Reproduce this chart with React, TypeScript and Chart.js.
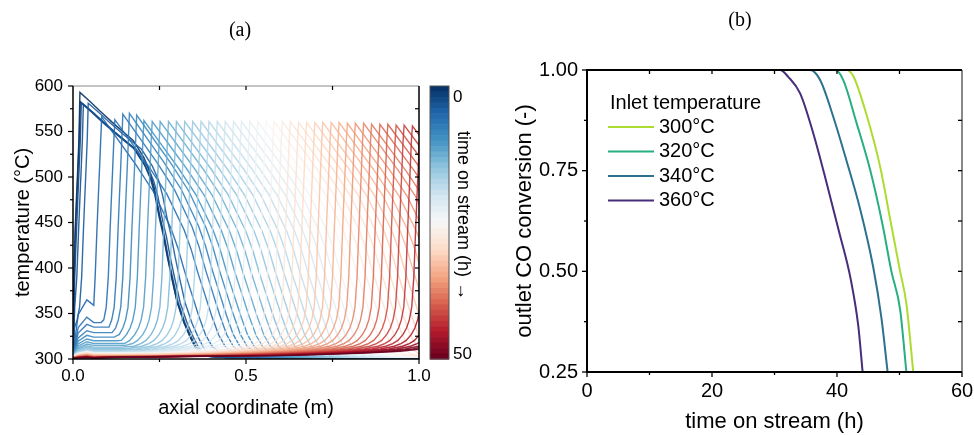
import React, { useEffect, useRef } from "react";
import { Chart, registerables } from "chart.js";

Chart.register(...registerables);

const FONT = "'Liberation Sans', Arial, Helvetica, sans-serif";
const SERIF = "'Liberation Serif', 'Times New Roman', serif";

// ---------------- Panel (a): axial temperature profiles ----------------
const timeOnStream = [
  0, 1, 2, 3, 4, 5, 6, 7, 8, 9, 10, 11, 12, 13, 14, 15, 16, 17, 18, 19, 20, 21, 22, 23, 24, 25,
  26, 27, 28, 29, 30, 31, 32, 33, 34, 35, 36, 37, 38, 39, 40, 41, 42, 43, 44, 45, 46, 47, 48, 49, 50,
];
// axial position of the hot spot (m) for each hour
const frontPosition = [
  0.02, 0.021, 0.024, 0.03, 0.044, 0.083, 0.121, 0.144, 0.163, 0.184, 0.205, 0.229, 0.252, 0.276,
  0.299, 0.323, 0.346, 0.37, 0.393, 0.417, 0.44, 0.464, 0.487, 0.511, 0.534, 0.558, 0.581, 0.605,
  0.628, 0.652, 0.675, 0.699, 0.722, 0.746, 0.769, 0.793, 0.816, 0.84, 0.863, 0.887, 0.91, 0.934,
  0.957, 0.981, 1.004, 1.028, 1.052, 1.075, 1.099, 1.122, 1.146,
];
// hot-spot temperature (°C)
const peakTemperature = [
  593, 583, 581, 580, 581, 566, 563, 569, 570, 568, 562, 561, 561, 561, 561, 561, 561, 561, 561,
  561, 561, 561, 561, 561, 561, 561, 561, 561, 561, 560, 560, 560, 560, 560, 560, 559, 559, 559,
  558, 558, 558, 557, 557, 556, 556, 555, 555, 555, 554, 554, 554,
];
// small inlet bump (°C at x ≈ 0.04 m); null = no bump
const inletBumpTemperature: (number | null)[] = [
  null, null, null, null, null, 365, 346, 338, 331, 326, 322, 319, 316.5, 314.5, 313, 312, 311, 310,
  309.5, 309, 308.5, 308.2, 308, 307.8, 307.6, 307.4, 307.1, 306.8, 306.5, 306.2, 305.9, 305.6,
  305.3, 305, 304.7, 304.4, 304.1, 303.8, 303.5, 303.3, 303.1, 302.9, 302.7, 302.5, 302.3, 302.2,
  302.1, 302, 301.9, 301.8, 301.7,
];
// level of the deactivated zone upstream of the front (°C)
const plateauTemperature = [
  300, 300, 300, 300, 300, 359, 340, 335, 329, 324, 320, 317, 315, 313, 311.5, 310.5, 309.5, 308.5,
  308, 307.6, 307.3, 307, 306.8, 306.6, 306.4, 306.2, 305.9, 305.6, 305.3, 305, 304.7, 304.4, 304.1,
  303.8, 303.5, 303.2, 302.9, 302.7, 302.5, 302.3, 302.1, 301.9, 301.8, 301.7, 301.6, 301.5, 301.4,
  301.3, 301.3, 301.2, 301.2,
];
// shape of the rising flank, read relative to the hot spot
const riseOffset = [
  -1.0, -0.5, -0.3, -0.2, -0.14, -0.1, -0.08, -0.065, -0.05, -0.04, -0.032, -0.025, -0.019, -0.014,
  -0.01, -0.006, -0.003,
];
const riseTemperature = [
  302, 304, 306.5, 308.5, 311, 314, 317, 320.5, 327, 334, 343, 357, 390, 440, 477, 512, 540,
];
// falling flank of the first hours (fraction of peak rise above 300 °C)
const earlyDescentOffset = [
  0, 0.03, 0.058, 0.1, 0.154, 0.185, 0.203, 0.215, 0.228, 0.24, 0.251, 0.265, 0.28, 0.3, 0.318,
  0.333, 0.347, 0.37, 0.42, 1.5,
];
const earlyDescentFraction = [
  1, 0.965, 0.93, 0.88, 0.82, 0.755, 0.7, 0.64, 0.55, 0.48, 0.4, 0.31, 0.22, 0.14, 0.085, 0.045,
  0.022, 0.01, 0.006, 0.004,
];
// falling flank of the travelling front
const lateDescentOffset = [0, 0.05, 0.1, 0.15, 0.2, 0.22, 0.24, 0.26, 0.28, 0.3, 0.32, 0.35, 0.4, 1.5];
const lateDescentFraction = [1, 0.9, 0.8, 0.69, 0.54, 0.46, 0.36, 0.27, 0.18, 0.1, 0.05, 0.02, 0.008, 0.004];

const axialMajor = [0, 0.5, 1.0];
const axialMinor = [0.25, 0.75];
const tempMajor = [300, 350, 400, 450, 500, 550, 600];
const tempMinor = [325, 375, 425, 475, 525, 575];
const colorbarLabels = ["0", "50"];
const timeMax = 50;

// ---------------- Panel (b): outlet CO conversion ----------------
const inletLabels = ["300°C", "320°C", "340°C", "360°C"];
const inletColors = ["#addc30", "#28ae80", "#2c728e", "#472d7b"];
const time300 = [0, 41.5, 42.6, 44.7, 46.9, 48.5, 50.1, 51.1, 52.2];
const conv300 = [1, 1, 0.985, 0.89, 0.76, 0.63, 0.5, 0.42, 0.25];
const time320 = [0, 39.7, 41.0, 43.1, 45.3, 47.3, 48.7, 50.1, 51.1];
const conv320 = [1, 1, 0.975, 0.87, 0.752, 0.615, 0.5, 0.405, 0.25];
const time340 = [0, 35.7, 37.3, 39.4, 41.5, 43.7, 45.8, 47.1, 48.1];
const conv340 = [1, 1, 0.975, 0.884, 0.776, 0.655, 0.51, 0.385, 0.25];
const time360 = [0, 30.9, 32.2, 34.1, 36.2, 38.35, 40.3, 42.2, 43.4, 44.1];
const conv360 = [1, 1, 0.983, 0.942, 0.843, 0.719, 0.6, 0.48, 0.365, 0.25];
const timeMajor = [0, 20, 40, 60];
const timeMinor = [10, 30, 50];
const convMajor = [0.25, 0.5, 0.75, 1.0];
const convMinor = [0.375, 0.625, 0.875];

// ---------------- helpers ----------------
const RDBU_R = ["#053061", "#2166ac", "#4393c3", "#92c5de", "#d1e5f0", "#f7f7f7", "#fddbc7", "#f4a582", "#d6604d", "#b2182b", "#67001f"];
function hexRgb(h: string) {
  return [parseInt(h.slice(1, 3), 16), parseInt(h.slice(3, 5), 16), parseInt(h.slice(5, 7), 16)];
}
function cmap(f: number, alpha = 1) {
  const n = RDBU_R.length - 1;
  const p = Math.max(0, Math.min(1, f)) * n;
  const i = Math.min(Math.floor(p), n - 1);
  const r = p - i;
  const a = hexRgb(RDBU_R[i]);
  const b = hexRgb(RDBU_R[i + 1]);
  const c = a.map((v, k) => Math.round(v + (b[k] - v) * r));
  return `rgba(${c[0]},${c[1]},${c[2]},${alpha})`;
}

function buildProfile(i: number) {
  const xf = frontPosition[i];
  const tp = peakTemperature[i];
  const bump = inletBumpTemperature[i];
  const plateau = plateauTemperature[i];
  const start = bump !== null ? Math.min(300 + (bump - 300) * 0.35, 305) : 300;
  const pts: { x: number; y: number }[] = [{ x: 0, y: start }];
  let lastX = 0;
  if (bump !== null) {
    pts.push({ x: 0.015, y: 300 + (bump - 300) * 0.75 });
    pts.push({ x: 0.04, y: bump });
    pts.push({ x: 0.06, y: plateau });
    lastX = 0.06;
  }
  const floor = bump !== null ? plateau : 300;
  for (let k = 0; k < riseOffset.length; k++) {
    const x = xf + riseOffset[k];
    if (x <= lastX + 0.002) continue;
    pts.push({ x, y: Math.max(riseTemperature[k], floor) });
    lastX = x;
  }
  pts.push({ x: xf, y: tp });
  const early = bump === null;
  const off = early ? earlyDescentOffset : lateDescentOffset;
  const frac = early ? earlyDescentFraction : lateDescentFraction;
  for (let k = 1; k < off.length; k++) {
    pts.push({ x: xf + off[k], y: 300 + (tp - 300) * frac[k] });
  }
  return pts;
}

function tick(ctx: CanvasRenderingContext2D, x1: number, y1: number, x2: number, y2: number) {
  ctx.beginPath();
  ctx.moveTo(x1, y1);
  ctx.lineTo(x2, y2);
  ctx.stroke();
}

const frameA = {
  id: "frameA",
  afterDatasetsDraw(chart: any) {
    const { ctx, chartArea } = chart;
    const { left, right, top, bottom } = chartArea;
    const xs = chart.scales.x;
    const ys = chart.scales.y;
    ctx.save();
    ctx.lineWidth = 1;
    ctx.strokeStyle = "#888";
    tick(ctx, left, top, right, top);
    ctx.strokeStyle = "#000";
    ctx.lineWidth = 1.5;
    ctx.beginPath();
    ctx.moveTo(left, top);
    ctx.lineTo(left, bottom);
    ctx.lineTo(right, bottom);
    ctx.lineTo(right, top);
    ctx.stroke();
    ctx.lineWidth = 1.2;
    tempMajor.forEach((v) => tick(ctx, left - 5, ys.getPixelForValue(v), left, ys.getPixelForValue(v)));
    tempMinor.forEach((v) => tick(ctx, left - 3, ys.getPixelForValue(v), left, ys.getPixelForValue(v)));
    axialMajor.forEach((v) => tick(ctx, xs.getPixelForValue(v), bottom, xs.getPixelForValue(v), bottom + 5));
    axialMinor.forEach((v) => tick(ctx, xs.getPixelForValue(v), bottom, xs.getPixelForValue(v), bottom + 3));
    [...tempMajor, ...tempMinor].forEach((v) => {
      if (v === 300 || v === 600) return;
      tick(ctx, right - 4, ys.getPixelForValue(v), right, ys.getPixelForValue(v));
    });
    [...axialMinor, 0.5].forEach((v) => tick(ctx, xs.getPixelForValue(v), top, xs.getPixelForValue(v), top + 4));

    // colorbar
    const cbL = right + 11;
    const cbW = 19;
    const n = 50;
    const h = (bottom - top) / n;
    for (let k = 0; k < n; k++) {
      ctx.fillStyle = cmap((k + 0.5) / n);
      ctx.fillRect(cbL, top + k * h, cbW, h + 0.6);
    }
    ctx.strokeStyle = "#555";
    ctx.lineWidth = 1;
    ctx.strokeRect(cbL, top, cbW, bottom - top);
    ctx.fillStyle = "#000";
    ctx.font = `17px ${FONT}`;
    ctx.textAlign = "left";
    ctx.textBaseline = "middle";
    ctx.fillText(colorbarLabels[0], cbL + cbW + 4, top + 11);
    ctx.fillText(colorbarLabels[1], cbL + cbW + 4, bottom - 5);
    ctx.translate(cbL + cbW + 14, (top + bottom) / 2 - 7);
    ctx.rotate(Math.PI / 2);
    ctx.textAlign = "center";
    ctx.font = `18px ${FONT}`;
    ctx.fillText("time on stream (h) \u2192", 0, 0);
    ctx.restore();
  },
};

const frameB = {
  id: "frameB",
  afterDatasetsDraw(chart: any) {
    const { ctx, chartArea } = chart;
    const { left, right, top, bottom } = chartArea;
    const xs = chart.scales.x;
    const ys = chart.scales.y;
    ctx.save();
    ctx.lineWidth = 2;
    ctx.strokeStyle = "#888";
    tick(ctx, right, top, right, bottom);
    ctx.strokeStyle = "#000";
    ctx.beginPath();
    ctx.moveTo(right, top);
    ctx.lineTo(left, top);
    ctx.lineTo(left, bottom);
    ctx.lineTo(right, bottom);
    ctx.stroke();
    ctx.lineWidth = 1.3;
    convMajor.forEach((v) => tick(ctx, left - 5, ys.getPixelForValue(v), left, ys.getPixelForValue(v)));
    convMinor.forEach((v) => tick(ctx, left - 3, ys.getPixelForValue(v), left, ys.getPixelForValue(v)));
    timeMajor.forEach((v) => tick(ctx, xs.getPixelForValue(v), bottom, xs.getPixelForValue(v), bottom + 5));
    timeMinor.forEach((v) => tick(ctx, xs.getPixelForValue(v), bottom, xs.getPixelForValue(v), bottom + 3));
    [10, 20, 30, 40, 50].forEach((v) => tick(ctx, xs.getPixelForValue(v), top, xs.getPixelForValue(v), top + 4));
    [0.375, 0.5, 0.625, 0.75, 0.875].forEach((v) => tick(ctx, right - 4, ys.getPixelForValue(v), right, ys.getPixelForValue(v)));

    // legend
    ctx.fillStyle = "#000";
    ctx.textBaseline = "middle";
    ctx.textAlign = "left";
    ctx.font = `20px ${FONT}`;
    ctx.fillText("Inlet temperature", left + 23, top + 33);
    inletLabels.forEach((lab, i) => {
      const yy = top + 57 + i * 24.5;
      ctx.strokeStyle = inletColors[i];
      ctx.lineWidth = 2;
      tick(ctx, left + 21, yy, left + 67, yy);
      ctx.fillText(lab, left + 72, yy);
    });
    ctx.restore();
  },
};

const fixX = (h: number) => (s: any) => {
  s.height = h;
  s.paddingLeft = 0;
  s.paddingRight = 0;
};
const fixY = (w: number) => (s: any) => {
  s.width = w;
  s.paddingTop = 0;
  s.paddingBottom = 0;
};

export default function App() {
  const aRef = useRef<HTMLCanvasElement>(null);
  const bRef = useRef<HTMLCanvasElement>(null);

  useEffect(() => {
    const tickFont = (s: number) => ({ family: FONT, size: s });

    const datasetsA = timeOnStream.map((t, i) => ({
      label: `${t} h`,
      data: buildProfile(i),
      borderColor: cmap(t / timeMax, 0.9),
      borderWidth: 1.4,
      pointRadius: 0,
      tension: 0,
      fill: false,
      order: timeMax - t,
    }));

    const chartA = new Chart(aRef.current!, {
      type: "line",
      data: { datasets: datasetsA as any },
      options: {
        animation: false,
        responsive: false,
        events: [],
        layout: { padding: { top: 86, right: 68, bottom: 0, left: 0 } },
        plugins: { legend: { display: false }, tooltip: { enabled: false } },
        scales: {
          x: {
            type: "linear",
            min: 0,
            max: 1,
            afterFit: fixX(76),
            grid: { display: false, drawTicks: false },
            border: { display: false },
            ticks: {
              stepSize: 0.5,
              padding: 7.5,
              color: "#000",
              font: tickFont(17),
              maxRotation: 0,
              autoSkip: false,
              callback: (v: any) => Number(v).toFixed(1),
            },
            title: {
              display: true,
              text: "axial coordinate (m)",
              color: "#000",
              font: tickFont(20),
              padding: { top: 0, bottom: 15 },
            },
          },
          y: {
            type: "linear",
            min: 300,
            max: 600,
            afterFit: fixY(73),
            grid: { display: false, drawTicks: false },
            border: { display: false },
            ticks: {
              stepSize: 50,
              padding: 10,
              color: "#000",
              font: tickFont(17),
              autoSkip: false,
            },
            title: {
              display: true,
              text: "temperature (°C)",
              color: "#000",
              font: tickFont(20),
              padding: { top: 11, bottom: 0 },
            },
          },
        },
      },
      plugins: [frameA],
    });

    const seriesB = [
      [time300, conv300],
      [time320, conv320],
      [time340, conv340],
      [time360, conv360],
    ];
    const datasetsB = seriesB.map(([ts, cs], i) => ({
      label: inletLabels[i],
      data: ts.map((t, k) => ({ x: t, y: cs[k] })),
      borderColor: inletColors[i],
      borderWidth: 2,
      pointRadius: 0,
      cubicInterpolationMode: "monotone" as const,
      fill: false,
    }));

    const chartB = new Chart(bRef.current!, {
      type: "line",
      data: { datasets: datasetsB as any },
      options: {
        animation: false,
        responsive: false,
        events: [],
        layout: { padding: { top: 70, right: 12, bottom: 0, left: 0 } },
        plugins: { legend: { display: false }, tooltip: { enabled: false } },
        scales: {
          x: {
            type: "linear",
            min: 0,
            max: 60,
            afterFit: fixX(63),
            grid: { display: false, drawTicks: false },
            border: { display: false },
            ticks: {
              stepSize: 20,
              padding: 7.7,
              color: "#000",
              font: tickFont(20),
              maxRotation: 0,
              autoSkip: false,
            },
            title: {
              display: true,
              text: "time on stream (h)",
              color: "#000",
              font: tickFont(22),
              padding: { top: 0, bottom: 0 },
            },
          },
          y: {
            type: "linear",
            min: 0.25,
            max: 1,
            afterFit: fixY(100),
            grid: { display: false, drawTicks: false },
            border: { display: false },
            ticks: {
              stepSize: 0.25,
              padding: 9,
              color: "#000",
              font: tickFont(20),
              autoSkip: false,
              callback: (v: any) => Number(v).toFixed(2),
            },
            title: {
              display: true,
              text: "outlet CO conversion (-)",
              color: "#000",
              font: tickFont(22),
              padding: { top: 25, bottom: 0 },
            },
          },
        },
      },
      plugins: [frameB],
    });

    return () => {
      chartA.destroy();
      chartB.destroy();
    };
  }, []);

  return (
    <div style={{ position: "absolute", left: 0, top: 0, width: 974, height: 435, background: "#fff", overflow: "hidden" }}>
      <div style={{ position: "absolute", left: 0, top: 0, width: 487, height: 435 }}>
        <canvas ref={aRef} width={487} height={435} style={{ display: "block", width: 487, height: 435 }} />
      </div>
      <div style={{ position: "absolute", left: 487, top: 0, width: 487, height: 435 }}>
        <canvas ref={bRef} width={487} height={435} style={{ display: "block", width: 487, height: 435 }} />
      </div>
      <div style={{ position: "absolute", left: 190, top: 17, width: 100, textAlign: "center", fontFamily: SERIF, fontSize: 20, lineHeight: "24px", color: "#000" }}>
        (a)
      </div>
      <div style={{ position: "absolute", left: 690, top: 7, width: 100, textAlign: "center", fontFamily: SERIF, fontSize: 20, lineHeight: "24px", color: "#000" }}>
        (b)
      </div>
    </div>
  );
}
